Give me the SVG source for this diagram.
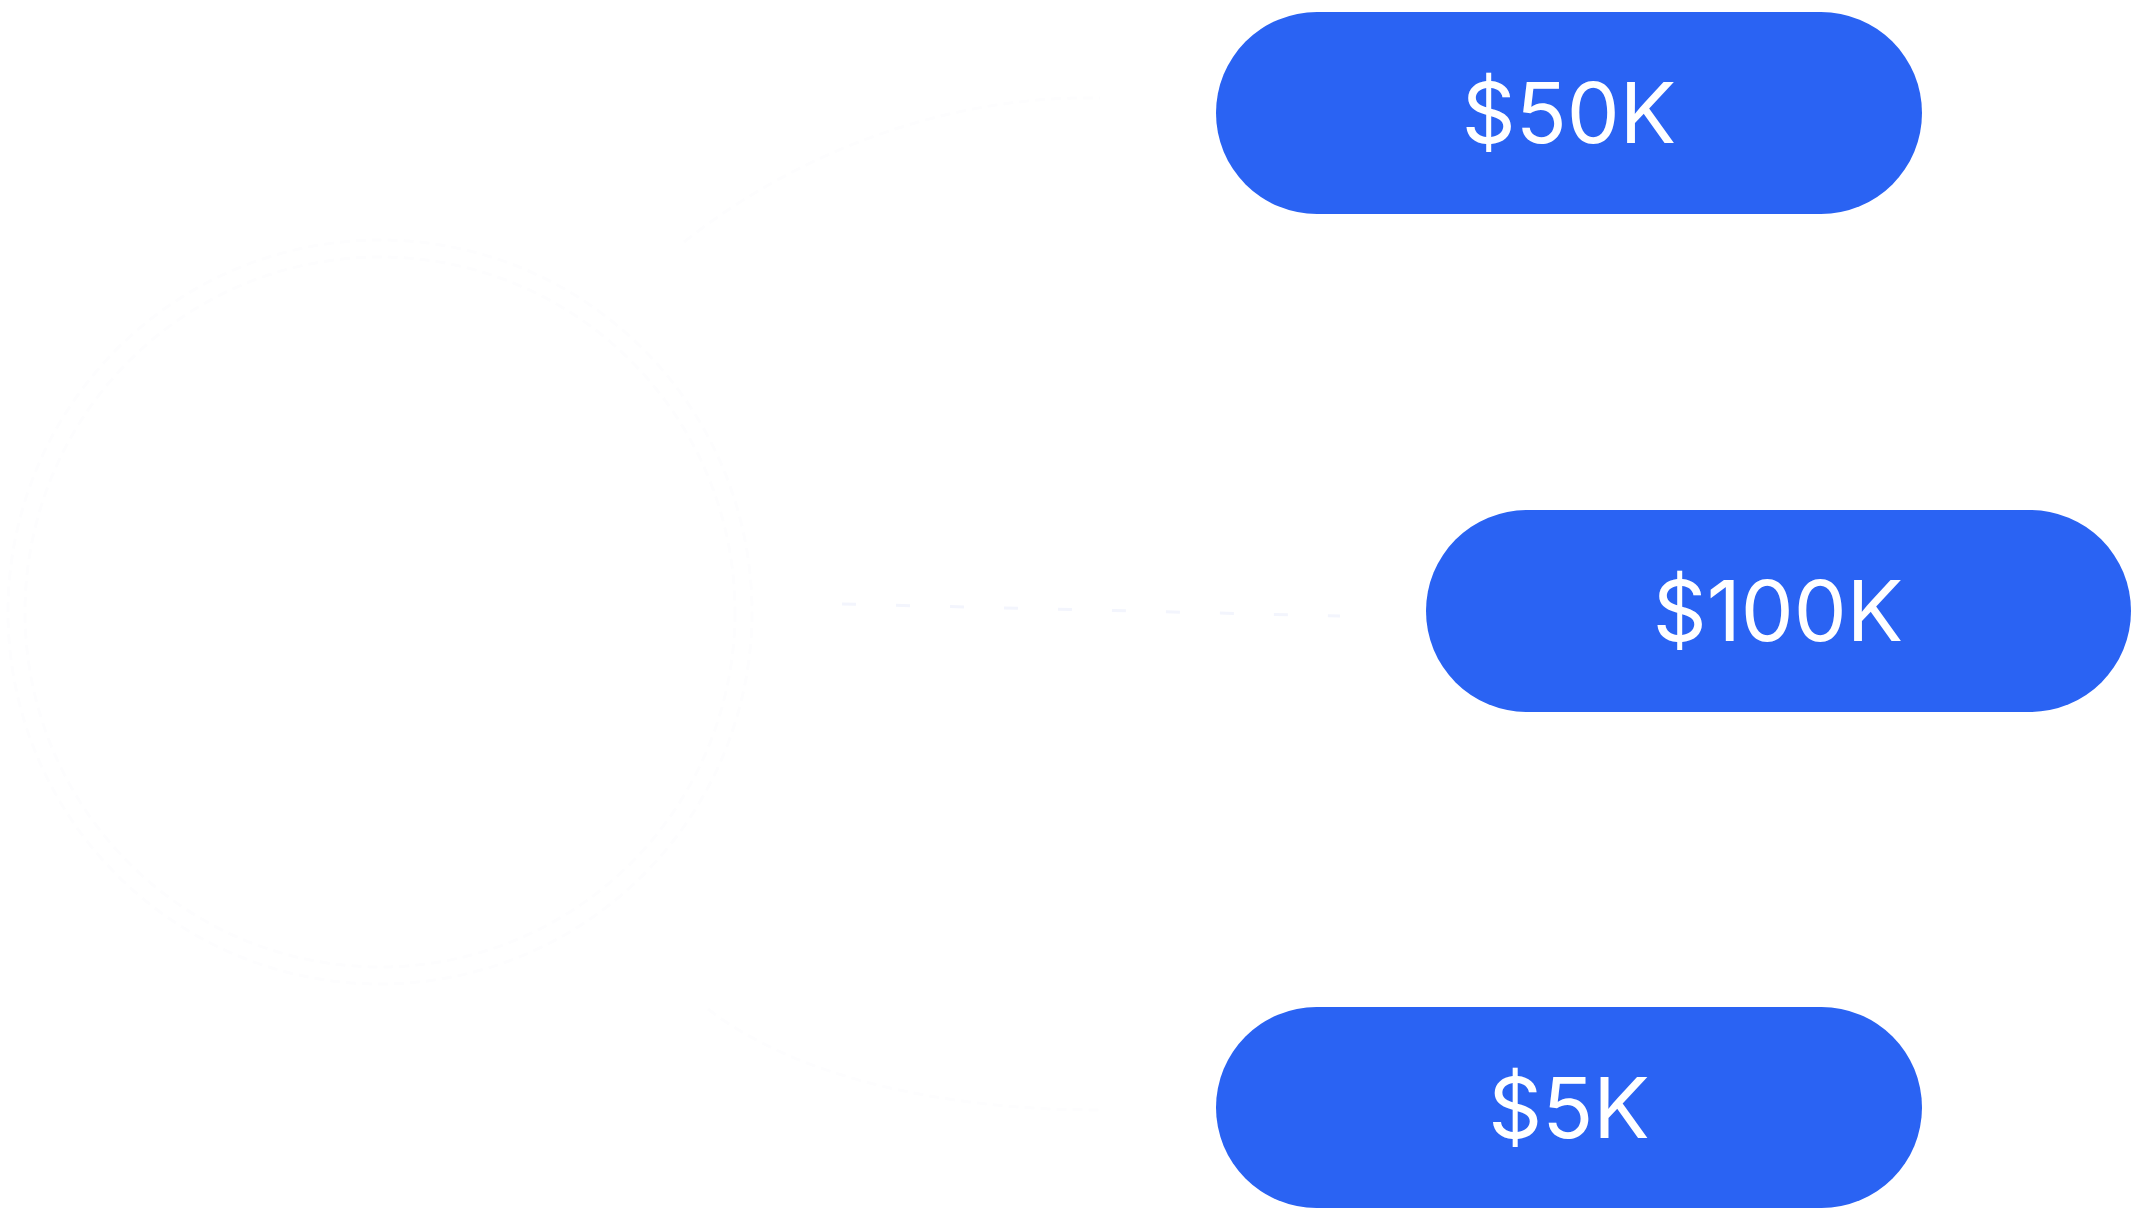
<svg xmlns="http://www.w3.org/2000/svg" width="2142" height="1220" viewBox="0 0 2142 1220">
<style>
.pill{fill:#2A63F3;}
.lbl{font-family:Inter,"Liberation Sans",sans-serif;font-size:84px;fill:#ffffff;text-anchor:middle;}
.faint{fill:none;stroke:#fdfdfe;stroke-width:3;stroke-dasharray:10 6;}
.dash{fill:none;stroke:#f3f5fd;stroke-width:3;stroke-dasharray:14 40;}
</style>
<rect width="2142" height="1220" fill="#ffffff"/>
<g id="hub">
<circle cx="380" cy="612" r="372" class="faint"/>
<circle cx="380" cy="612" r="355" class="faint"/>
</g>
<g id="connectors">
<path class="faint" d="M684 242 C 800 150, 950 95, 1100 98"/>
<path class="dash" d="M842 604 L 1340 616"/>
<path class="faint" d="M708 1009 C 800 1080, 950 1110, 1100 1110"/>
</g>
<g id="node-50k">
<rect class="pill" x="1216" y="12" width="706" height="202" rx="101"/>
<text class="lbl" x="1569" y="143">$50K</text>
</g>
<g id="node-100k">
<rect class="pill" x="1426" y="510" width="705" height="202" rx="101"/>
<text class="lbl" x="1778" y="641">$100K</text>
</g>
<g id="node-5k">
<rect class="pill" x="1216" y="1007" width="706" height="201" rx="100.5"/>
<text class="lbl" x="1569" y="1138">$5K</text>
</g>
</svg>
